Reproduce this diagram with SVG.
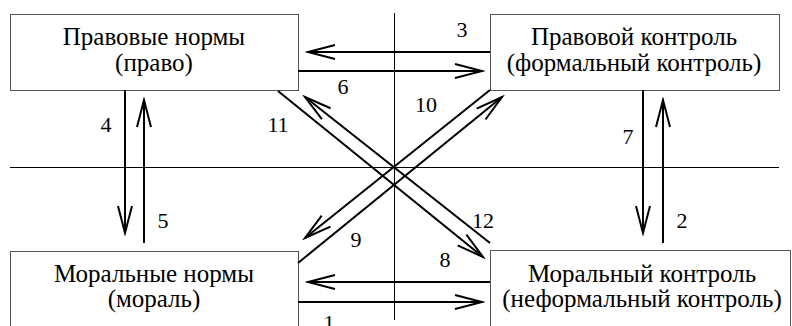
<svg xmlns="http://www.w3.org/2000/svg" width="792" height="326" viewBox="0 0 792 326">
<style>
.box{fill:#fff;stroke:#555;stroke-width:1}
.t{font-family:"Liberation Serif","DejaVu Serif",serif;font-size:25px;fill:#000;text-anchor:middle}
.n{font-family:"Liberation Serif","DejaVu Serif",serif;font-size:22px;fill:#000;text-anchor:middle}
.ax{stroke:#000;stroke-width:1;fill:none}
.ar{stroke:#000;stroke-width:2;fill:none;marker-end:url(#ah)}
</style>
<defs>
<marker id="ah" markerUnits="userSpaceOnUse" markerWidth="34" markerHeight="22" viewBox="-31 -11 34 22" refX="0" refY="0" orient="auto">
<path d="M-27,-7 L0,0 L-27,7" fill="none" stroke="#000" stroke-width="2"/>
</marker>
</defs>
<g id="axes">
<line class="ax" x1="10" y1="167.5" x2="779" y2="167.5"/>
<line class="ax" x1="394.5" y1="13" x2="394.5" y2="320"/>
</g>
<g id="node-pravovye-normy">
<rect class="box" x="10.5" y="14.5" width="288" height="76"/>
<text class="t" x="154" y="45">Правовые нормы</text>
<text class="t" x="154" y="70.5">(право)</text>
</g>
<g id="node-pravovoy-kontrol">
<rect class="box" x="490.5" y="14.5" width="289" height="76"/>
<text class="t" x="634" y="45">Правовой контроль</text>
<text class="t" x="634" y="70.5">(формальный контроль)</text>
</g>
<g id="node-moralnye-normy">
<rect class="box" x="10.5" y="251.5" width="288" height="85"/>
<text class="t" x="154" y="281.5">Моральные нормы</text>
<text class="t" x="154" y="307">(мораль)</text>
</g>
<g id="node-moralny-kontrol">
<rect class="box" x="490.5" y="250.5" width="300" height="86"/>
<text class="t" x="642" y="281.5">Моральный контроль</text>
<text class="t" x="642" y="307">(неформальный контроль)</text>
</g>
<g id="connectors">
<line class="ar" x1="490" y1="52" x2="308" y2="52"/>
<line class="ar" x1="298" y1="71" x2="482" y2="71"/>
<line class="ar" x1="490" y1="282" x2="308" y2="282"/>
<line class="ar" x1="298" y1="302" x2="482" y2="302"/>
<line class="ar" x1="125" y1="90" x2="125" y2="233"/>
<line class="ar" x1="144" y1="243" x2="144" y2="100"/>
<line class="ar" x1="643" y1="90" x2="643" y2="233"/>
<line class="ar" x1="663" y1="243" x2="663" y2="100"/>
<line class="ar" x1="278" y1="91" x2="483" y2="257"/>
<line class="ar" x1="490" y1="243" x2="305" y2="97"/>
<line class="ar" x1="490" y1="90" x2="305" y2="238"/>
<line class="ar" x1="298" y1="263" x2="502" y2="97"/>
</g>
<g id="labels">
<text class="n" x="462" y="37">3</text>
<text class="n" x="343" y="94">6</text>
<text class="n" x="106" y="132">4</text>
<text class="n" x="278" y="132">11</text>
<text class="n" x="426" y="112">10</text>
<text class="n" x="628" y="144">7</text>
<text class="n" x="163" y="228">5</text>
<text class="n" x="356" y="247">9</text>
<text class="n" x="483" y="228">12</text>
<text class="n" x="682" y="228">2</text>
<text class="n" x="445" y="267">8</text>
<text class="n" x="329" y="330">1</text>
</g>
</svg>
